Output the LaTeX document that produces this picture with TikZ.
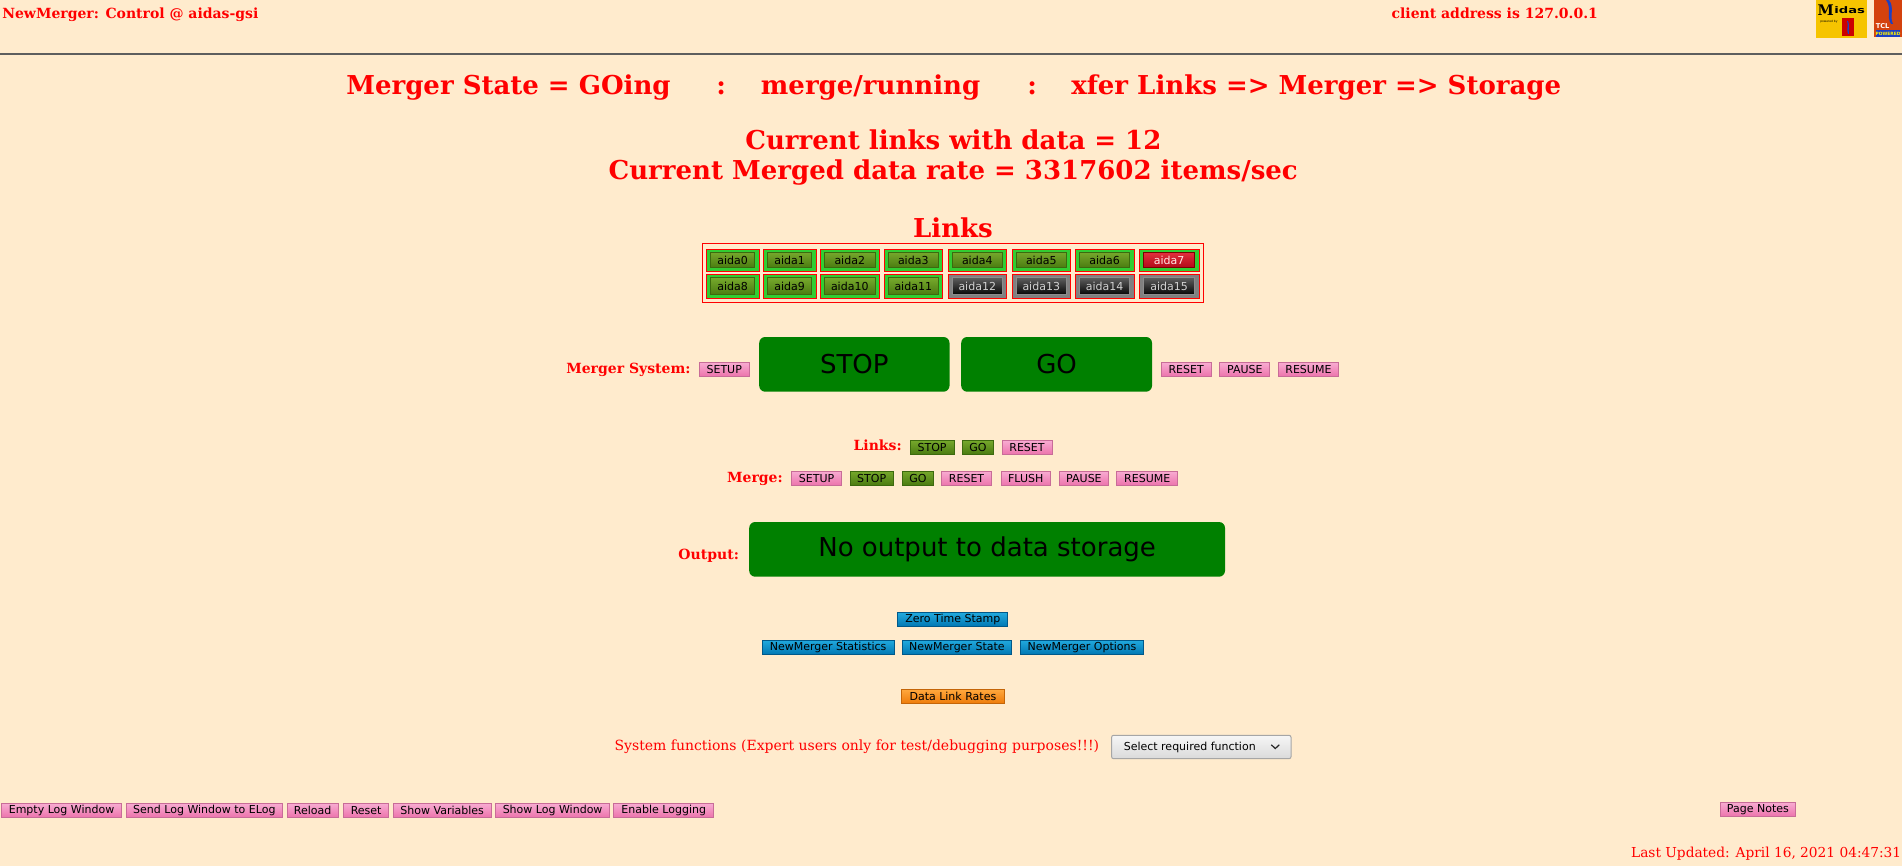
\documentclass[tikz,border=0pt]{standalone}
\usepackage{fontspec}
\setmainfont{DejaVu Serif}
\newfontfamily\sansf{DejaVu Sans}
\definecolor{bg}{HTML}{FFEBCD}
\definecolor{txtred}{HTML}{FF0000}
\definecolor{pinkT}{HTML}{F8ACD2}
\definecolor{pinkB}{HTML}{EC72AB}
\definecolor{pinkD}{HTML}{C86C98}
\definecolor{grnT}{HTML}{76A82C}
\definecolor{grnB}{HTML}{4A7A10}
\definecolor{grnD}{HTML}{3C6A0E}
\definecolor{cellG}{HTML}{32CD32}
\definecolor{bigG}{HTML}{008000}
\definecolor{bluT}{HTML}{22AADE}
\definecolor{bluB}{HTML}{0076B2}
\definecolor{bluD}{HTML}{00598A}
\definecolor{orT}{HTML}{FFA83E}
\definecolor{orB}{HTML}{EE7A08}
\definecolor{orD}{HTML}{C46508}
\definecolor{blkT}{HTML}{5C5C5C}
\definecolor{blkB}{HTML}{040404}
\definecolor{blkD}{HTML}{8C8C8C}
\definecolor{redT}{HTML}{E2303C}
\definecolor{redB}{HTML}{B00818}
\definecolor{redD}{HTML}{7A0000}
\definecolor{cellGrey}{HTML}{808080}
\definecolor{selT}{HTML}{F6F6F6}
\definecolor{selB}{HTML}{DADADA}
\definecolor{selD}{HTML}{A6A6A6}
\definecolor{ruleC}{HTML}{5E5E5E}
\definecolor{midasY}{HTML}{F6C400}
\definecolor{tclR}{HTML}{D4420E}
\definecolor{tclB}{HTML}{1C40C4}
\newcommand\btnfont{\sansf\fontsize{8.25}{9}\selectfont}
\newcommand\bigfont{\sansf\fontsize{19.5}{22}\selectfont}
\newcommand\headfont{\bfseries\fontsize{19.5}{22}\selectfont}
\newcommand\lblfont{\bfseries\fontsize{10.5}{12}\selectfont}
\newcommand\bx[7]{\node[#2,minimum width={(#5-(#3))*0.75pt},minimum height={(#6-(#4))*0.75pt}] (#1) at ({(#3+#5)/2},{(#4+#6)/2}) {#7};}
\newcommand\lcell[8]{\bx{#1}{#2}{#4}{#6}{#5}{#7}{}\bx{#1b}{#3}{#4+4.3}{#6+3}{#5-4.5}{#7-3.7}{#8}}
\begin{document}
\begin{tikzpicture}[x=0.75pt,y=-0.75pt,
  base/.style={inner sep=0pt,outer sep=0pt,line width=0.75pt},
  pinkbtn/.style={base,draw=pinkD,top color=pinkT,bottom color=pinkB,font=\btnfont,text=black},
  grnbtn/.style={base,draw=grnD,top color=grnT,bottom color=grnB,font=\btnfont,text=black},
  blubtn/.style={base,draw=bluD,top color=bluT,bottom color=bluB,font=\btnfont,text=black},
  orbtn/.style={base,draw=orD,top color=orT,bottom color=orB,font=\btnfont,text=black},
  blkbtn/.style={base,draw=blkD,top color=blkT,bottom color=blkB,font=\btnfont,text=black!18},
  redbtn/.style={base,draw=redD,top color=redT,bottom color=redB,font=\btnfont,text=white!90!red},
  bigbtn/.style={base,fill=bigG,rounded corners=4.5pt,font=\bigfont,text=black},
  gcell/.style={base,draw=txtred,fill=cellG},
  kcell/.style={base,draw=txtred,fill=cellGrey},
  seltbox/.style={base,draw=selD,top color=selT,bottom color=selB,rounded corners=1.5pt},
  head/.style={inner sep=0pt,font=\headfont,text=txtred},
  toptxt/.style={inner sep=0pt,font=\bfseries\fontsize{10.5}{12}\selectfont,text=txtred},
  lbl/.style={inner sep=0pt,font=\lblfont,text=txtred},
  plain/.style={inner sep=0pt,font=\fontsize{10.5}{12}\selectfont,text=txtred}]
\useasboundingbox (0,0) rectangle (1902,866);
\fill[bg] (0,0) rectangle (1902,866);

% header
\node[toptxt,anchor=base west] (title) at (2,18.3) {NewMerger: Control @ aidas-gsi};
\node[toptxt,anchor=base west] (client) at (1391.3,18.3) {client address is 127.0.0.1};
\draw[ruleC,line width=1.5pt] (0,54.5) -- (1902,54.5);

% logos
\fill[midasY] (1816,0) rectangle (1867,37.7);
\node[inner sep=0pt,anchor=base west,font=\bfseries\fontsize{11}{11}\selectfont] (midasM) at (1817.3,15.5) {M};
\node[inner sep=0pt,anchor=base west,font=\sansf\bfseries\fontsize{6.8}{7}\selectfont,xscale=1.45,transform shape] (midasT) at (1834,13.8) {idas};
\node[inner sep=0pt,anchor=base west,font=\sansf\fontsize{2.2}{3}\selectfont] (midasP) at (1820,23) {powered by};
\fill[red!80!black] (1841.7,18.3) rectangle (1854,36);
\fill[tclB] (1847,21) .. controls (1849,25) and (1846,30) .. (1848,34) -- (1849,34) .. controls (1848,29) and (1850,25) .. (1848,21) -- cycle;
\fill[tclR] (1874,0) rectangle (1902,36.7);
\fill[tclB] (1886,0) .. controls (1892,8) and (1886,16) .. (1891,24) -- (1893,24) .. controls (1889,16) and (1895,8) .. (1889,0) -- cycle;
\node[inner sep=0pt,anchor=base west,font=\sansf\bfseries\fontsize{5}{6}\selectfont,text=white] (tclT) at (1875.5,28.8) {TCL};
\fill[tclB] (1876,30.5) rectangle (1900,36.7);
\node[inner sep=0pt,font=\sansf\bfseries\fontsize{3.3}{4}\selectfont,text=yellow] (tclP) at (1888,33.7) {POWERED};

% state lines
\node[head,anchor=base west] (st1) at (346,94.3) {Merger State = GOing};
\node[head,anchor=base west] (st2) at (716,94.3) {:};
\node[head,anchor=base west] (st3) at (760.7,94.3) {merge/running};
\node[head,anchor=base west] (st4) at (1027,94.3) {:};
\node[head,anchor=base west] (st5) at (1071,94.3) {xfer Links => Merger => Storage};
\node[head,anchor=base] (cur1) at (953.4,150) {Current links with data = 12};
\node[head,anchor=base] (cur2) at (953.2,180) {Current Merged data rate = 3317602 items/sec};
\node[head,anchor=base] (links) at (953,238) {Links};

% links table
\draw[txtred,line width=0.75pt] (702.3,244) rectangle (1203.7,302.3);
\lcell{a0}{gcell}{grnbtn}{706}{759.3}{249.3}{271.7}{aida0}
\lcell{a1}{gcell}{grnbtn}{763}{816.3}{249.3}{271.7}{aida1}
\lcell{a2}{gcell}{grnbtn}{820}{879.7}{249.3}{271.7}{aida2}
\lcell{a3}{gcell}{grnbtn}{884}{942.7}{249.3}{271.7}{aida3}
\lcell{a4}{gcell}{grnbtn}{948}{1006.7}{249.3}{271.7}{aida4}
\lcell{a5}{gcell}{grnbtn}{1012}{1070.7}{249.3}{271.7}{aida5}
\lcell{a6}{gcell}{grnbtn}{1075.3}{1134}{249.3}{271.7}{aida6}
\lcell{a7}{gcell}{redbtn}{1139}{1199.3}{249.3}{271.7}{aida7}
\lcell{a8}{gcell}{grnbtn}{706}{759.3}{275}{298.7}{aida8}
\lcell{a9}{gcell}{grnbtn}{763}{816.3}{275}{298.7}{aida9}
\lcell{a10}{gcell}{grnbtn}{820}{879.7}{275}{298.7}{aida10}
\lcell{a11}{gcell}{grnbtn}{884}{942.7}{275}{298.7}{aida11}
\lcell{a12}{kcell}{blkbtn}{948}{1006.7}{275}{298.7}{aida12}
\lcell{a13}{kcell}{blkbtn}{1012}{1070.7}{275}{298.7}{aida13}
\lcell{a14}{kcell}{blkbtn}{1075.3}{1134}{275}{298.7}{aida14}
\lcell{a15}{kcell}{blkbtn}{1139}{1199.3}{275}{298.7}{aida15}

% merger system row
\node[lbl,anchor=base east] (msl) at (690.8,373) {Merger System:};
\bx{msSetup}{pinkbtn}{699}{362.3}{749.5}{376.7}{SETUP}
\bx{msStop}{bigbtn}{759.2}{337}{949.5}{391.7}{STOP}
\bx{msGo}{bigbtn}{961.2}{337}{1152}{391.7}{GO}
\bx{msReset}{pinkbtn}{1161.2}{362.3}{1211.2}{376.7}{RESET}
\bx{msPause}{pinkbtn}{1219.9}{362.3}{1269.9}{376.7}{PAUSE}
\bx{msResume}{pinkbtn}{1278}{362.3}{1338.8}{376.7}{RESUME}

% links row
\node[lbl,anchor=base east] (lkl) at (902,450) {Links:};
\bx{lkStop}{grnbtn}{910.2}{440.3}{954}{454.7}{STOP}
\bx{lkGo}{grnbtn}{962.2}{440.3}{993.9}{454.7}{GO}
\bx{lkReset}{pinkbtn}{1002}{440.3}{1052}{454.7}{RESET}

% merge row
\node[lbl,anchor=base east] (mgl) at (783,482.3) {Merge:};
\bx{mgSetup}{pinkbtn}{791.8}{471}{841.3}{485.7}{SETUP}
\bx{mgStop}{grnbtn}{850}{471}{893.4}{485.7}{STOP}
\bx{mgGo}{grnbtn}{902}{471}{933.7}{485.7}{GO}
\bx{mgReset}{pinkbtn}{941.8}{471}{991.3}{485.7}{RESET}
\bx{mgFlush}{pinkbtn}{1001}{471}{1050.5}{485.7}{FLUSH}
\bx{mgPause}{pinkbtn}{1059.2}{471}{1108.7}{485.7}{PAUSE}
\bx{mgResume}{pinkbtn}{1116.8}{471}{1177.6}{485.7}{RESUME}

% output
\node[lbl,anchor=base east] (outl) at (739.2,559) {Output:};
\bx{outBox}{bigbtn}{749.2}{522}{1225}{576.7}{No output to data storage}

% blue buttons
\bx{zts}{blubtn}{897.9}{612.3}{1007.8}{626.7}{Zero Time Stamp}
\bx{nmStat}{blubtn}{762}{640}{894.2}{654.7}{NewMerger Statistics}
\bx{nmState}{blubtn}{902}{640}{1011.8}{654.7}{NewMerger State}
\bx{nmOpt}{blubtn}{1020}{640}{1143.9}{654.7}{NewMerger Options}
\bx{dlr}{orbtn}{901.8}{689.3}{1004}{703.7}{Data Link Rates}

% system functions
\node[plain,anchor=base west] (sysf) at (614.3,750) {System functions (Expert users only for test/debugging purposes!!!)};
\bx{sel}{seltbox}{1111.6}{735.3}{1291}{758.7}{}
\node[inner sep=0pt,anchor=base west,font=\btnfont,text=black] (selt) at (1123.5,750.5) {Select required function};
\draw[black!85,line width=0.9pt] (1271.3,744.8) -- (1275.3,748.5) -- (1279.3,744.8);

% bottom buttons
\bx{elw}{pinkbtn}{1.4}{803.3}{121.7}{817.7}{Empty Log Window}
\bx{slwe}{pinkbtn}{126.3}{803.3}{282.4}{817.7}{Send Log Window to ELog}
\bx{rel}{pinkbtn}{287}{803.3}{338.4}{817.7}{Reload}
\bx{rst}{pinkbtn}{343.9}{803.3}{388.4}{817.7}{Reset}
\bx{shv}{pinkbtn}{393}{803.3}{491.3}{817.7}{Show Variables}
\bx{slw}{pinkbtn}{495.9}{803.3}{609.3}{817.7}{Show Log Window}
\bx{enl}{pinkbtn}{613.9}{803.3}{713.5}{817.7}{Enable Logging}
\bx{pgn}{pinkbtn}{1720}{802.3}{1795.7}{816.7}{Page Notes}
\node[plain,anchor=base east,font=\fontsize{10.3}{12}\selectfont] (upd) at (1901.5,857.7) {Last Updated: April 16, 2021 04:47:31};
\end{tikzpicture}
\end{document}
